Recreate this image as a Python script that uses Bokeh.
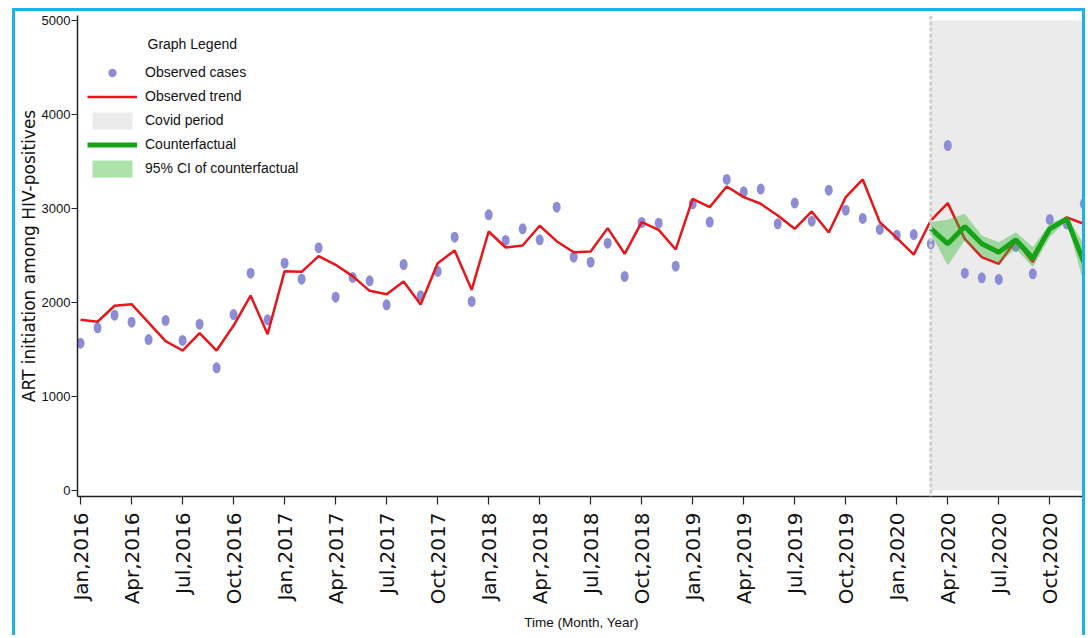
import math
from bokeh.plotting import figure
from bokeh.models import (ColumnDataSource, FixedTicker, Legend, LegendItem, Span,
                          Label, Range1d)
from bokeh.embed import file_html
from bokeh.resources import INLINE

# ---------------- data ----------------
months = list(range(60))  # Jan 2016 .. Dec 2020
observed = [1567, 1731, 1865, 1791, 1606, 1809, 1596, 1769, 1305, 1872, 2312, 1816,
            2418, 2248, 2582, 2057, 2266, 2231, 1975, 2404, 2071, 2330, 2695, 2011,
            2933, 2660, 2784, 2667, 3014, 2482, 2429, 2631, 2277, 2851, 2844, 2386,
            3050, 2855, 3309, 3177, 3206, 2837, 3057, 2865, 3195, 2982, 2894, 2777,
            2716, 2723, 2624, 3670, 2312, 2262, 2245, 2596, 2305, 2883, 2837, 3050]
trend = [1816, 1795, 1965, 1982, 1785, 1588, 1489, 1673, 1489, 1755, 2074, 1663,
         2333, 2326, 2493, 2401, 2280, 2124, 2088, 2223, 1979, 2418, 2553, 2135,
         2755, 2585, 2606, 2816, 2652, 2535, 2543, 2791, 2518, 2855, 2773, 2564,
         3103, 3014, 3234, 3121, 3050, 2926, 2784, 2968, 2745, 3121, 3309, 2855,
         2688, 2509, 2872, 3057, 2677, 2482, 2411, 2660, 2429, 2784, 2905, 2837]
cf_months = list(range(50, 60))
counterfactual = [2785, 2624, 2809, 2624, 2535, 2667, 2471, 2784, 2890, 2429]
ci_upper = [2855, 2880, 2943, 2713, 2641, 2748, 2589, 2837, 2915, 2624]
ci_lower = [2731, 2394, 2660, 2500, 2418, 2571, 2376, 2695, 2872, 2199]
covid_start = 50
covid_end = 59
covid_top = 5000
tick_months = list(range(0, 60, 3))
tick_labels = ["Jan,2016", "Apr,2016", "Jul,2016", "Oct,2016",
               "Jan,2017", "Apr,2017", "Jul,2017", "Oct,2017",
               "Jan,2018", "Apr,2018", "Jul,2018", "Oct,2018",
               "Jan,2019", "Apr,2019", "Jul,2019", "Oct,2019",
               "Jan,2020", "Apr,2020", "Jul,2020", "Oct,2020"]
y_ticks = [0, 1000, 2000, 3000, 4000, 5000]

SANS = "Liberation Sans"
WIDE = "DejaVu Sans"
TXT = "#111111"

obs_src = ColumnDataSource(dict(x=months, y=observed, trend=trend))
cf_src = ColumnDataSource(dict(x=cf_months, cf=counterfactual, lo=ci_lower, hi=ci_upper))

p = figure(width=1073, height=627, output_backend="svg", toolbar_location=None,
           x_range=Range1d(-0.18, 59.1), y_range=Range1d(-64, 5053),
           min_border_left=61, min_border_right=3, min_border_top=4, min_border_bottom=142)
p.margin = (8, 0, 0, 12)
p.styles = {"border-top": "3px solid #1DB1EA", "border-left": "3px solid #1DB1EA",
            "border-right": "3px solid #1DB1EA"}
p.outline_line_color = None
p.grid.visible = False
p.background_fill_color = "white"
p.border_fill_color = "white"

# covid period
r_covid = p.quad(left=[covid_start], right=[covid_end], bottom=[0], top=[covid_top],
                 fill_color="#EBEBEB", line_color=None)
p.add_layout(Span(location=covid_start, dimension="height", line_color="#CFCFCF",
                  line_width=3, line_dash="4 2"))

# observed cases
r_leg_pts = p.scatter("x", "y", source=obs_src, size=6, marker="circle",
                      fill_color="#8D8DD5", line_color=None)
p.ellipse("x", "y", source=obs_src, width=8, height=11, width_units="screen",
          height_units="screen", fill_color="#8D8DD5", line_color=None)
r_trend = p.line("x", "trend", source=obs_src, line_color="#E8161B", line_width=2.5)
r_ci = p.varea(x="x", y1="lo", y2="hi", source=cf_src, fill_color="#2DB82D", fill_alpha=0.4)
r_cf = p.line("x", "cf", source=cf_src, line_color="#17A317", line_width=5)

# axes
p.xaxis.ticker = FixedTicker(ticks=tick_months)
p.xaxis.major_label_overrides = {m: l for m, l in zip(tick_months, tick_labels)}
p.xaxis.major_label_orientation = math.pi / 2
p.yaxis.ticker = FixedTicker(ticks=y_ticks)
p.xaxis.axis_label = "Time (Month, Year)"
p.yaxis.axis_label = "ART initiation among HIV-positives"
for ax in (p.xaxis[0], p.yaxis[0]):
    ax.axis_line_color = "#222222"
    ax.axis_line_width = 1.5
    ax.major_tick_line_color = "#222222"
    ax.major_tick_line_width = 1.2
    ax.major_tick_in = 0
    ax.minor_tick_line_color = None
    ax.major_label_text_color = TXT
    ax.axis_label_text_color = TXT
    ax.axis_label_text_font_style = "normal"

p.xaxis.major_tick_out = 8
p.xaxis.major_label_text_font = WIDE
p.xaxis.major_label_text_font_size = "20px"
p.xaxis.major_label_standoff = 8
p.xaxis.axis_label_text_font = SANS
p.xaxis.axis_label_text_font_size = "13.5px"
p.xaxis.axis_label_standoff = 8

p.yaxis.major_tick_out = 6
p.yaxis.major_label_text_font = SANS
p.yaxis.major_label_text_font_size = "13px"
p.yaxis.major_label_standoff = 1
p.yaxis.axis_label_text_font = WIDE
p.yaxis.axis_label_text_font_size = "17px"
p.yaxis.axis_label_standoff = 0

legend = Legend(items=[
    LegendItem(label="Observed cases", renderers=[r_leg_pts]),
    LegendItem(label="Observed trend", renderers=[r_trend]),
    LegendItem(label="Covid period", renderers=[r_covid]),
    LegendItem(label="Counterfactual", renderers=[r_cf]),
    LegendItem(label="95% CI of counterfactual", renderers=[r_ci]),
], location=(10, 317.5))
legend.padding = 0
legend.margin = 0
legend.spacing = 3
legend.glyph_width = 50
legend.glyph_height = 21
legend.label_height = 21
legend.label_standoff = 8
legend.border_line_color = None
legend.background_fill_alpha = 0
legend.label_text_font = SANS
legend.label_text_font_size = "14px"
legend.label_text_color = TXT
p.add_layout(legend)

p.add_layout(Label(x=70, y=453, x_units="screen", y_units="screen", text="Graph Legend",
                   text_baseline="middle", text_font=SANS, text_font_size="14px",
                   text_color=TXT))

open("out.html", "w").write(file_html(p, INLINE))
